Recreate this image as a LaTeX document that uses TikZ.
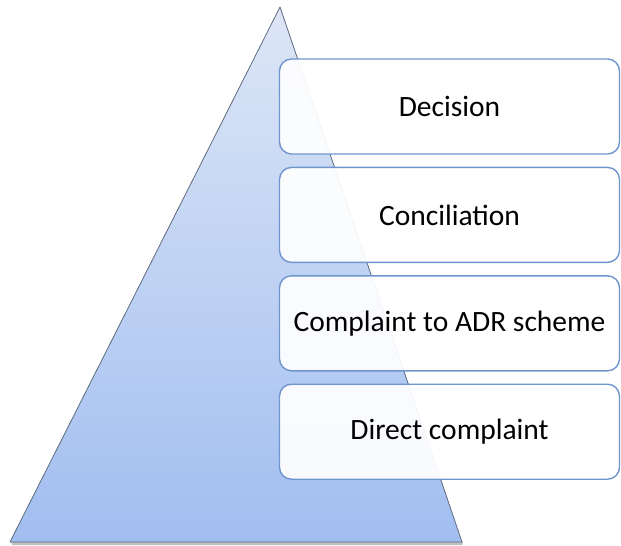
\documentclass[tikz,border=0pt]{standalone}
\usepackage{fontspec}
\setmainfont{Carlito}
\usetikzlibrary{positioning}

\definecolor{tierline}{HTML}{7095CE}
\definecolor{pyrtop}{HTML}{DDE6F6}
\definecolor{pyrbottom}{HTML}{A1BEF0}
\definecolor{pyredge}{HTML}{5C6A7E}

\begin{document}
\begin{tikzpicture}[
                    x=1pt,
                    y=-1pt,
                    node distance=12pt,
                    tier/.style={
                        draw=tierline,
                        line width=1.4pt,
                        rounded corners=12pt,
                        fill=white,
                        fill opacity=0.93,
                        text opacity=1,
                        minimum width=340pt,
                        minimum height=95pt,
                        font=\fontsize{29.5}{35}\selectfont
                    }
                ]
                \useasboundingbox (0,0) rectangle (621,546);
                % pyramid
                \coordinate (apex) at (280,7);
                \coordinate (base-l) at (10,542);
                \coordinate (base-r) at (462,542);
                \fill[black!25] (11,542) -- (463,542) -- (462,545) -- (12,545) -- cycle;
                \shade[top color=pyrtop, bottom color=pyrbottom] (apex) -- (base-r) -- (base-l) -- cycle;
                \draw[pyredge, line width=0.8pt, line join=round] (apex) -- (base-r) -- (base-l) -- cycle;

                % tiers
                \node[tier] (decision) at (449.5,106.5) {Decision} ;
                \node[tier] (conciliation) [below=of decision] {Conciliation} ;
                \node[tier] (adr) [below=of conciliation] {Complaint to ADR scheme} ;
                \node[tier] (direct) [below=of adr] {Direct complaint} ;
            \end{tikzpicture}
\end{document}
